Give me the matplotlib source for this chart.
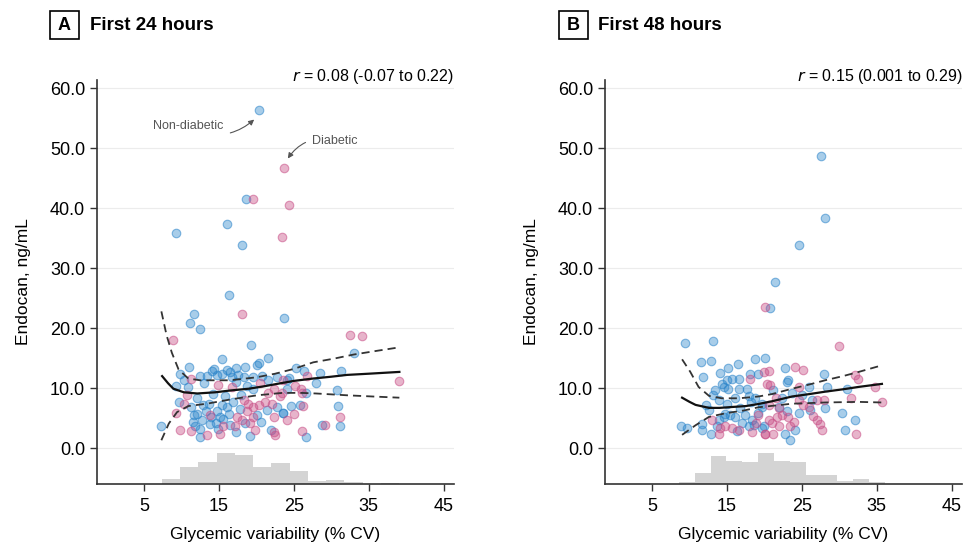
import numpy as np
import matplotlib.pyplot as plt
from matplotlib.patches import Rectangle

plt.rcParams['font.family'] = ['Liberation Sans', 'DejaVu Sans']

# Panel A - first 24 hours
a_nondiab_x = [20.3, 18.6, 9.2, 16.1, 18.1, 16.3, 11.6, 11.1, 12.4, 23.7, 19.3, 15.4, 21.5, 20.3, 20.1,
               11.0, 14.3, 14.1, 16.1, 17.3, 18.5, 9.8, 12.5, 13.4, 14.7, 15.4, 16.5, 16.7, 17.6, 18.3,
               19.6, 20.7, 21.6, 22.7, 24.1, 9.2, 10.3, 10.9, 17.3, 19.6, 9.7, 11.2, 12.9, 13.7, 15.4,
               16.1, 16.9, 22.7, 12.1, 14.7, 15.2, 15.6, 20.1, 21.4, 23.6, 7.3, 11.8, 12.5, 12.5, 13.8,
               14.6, 16.5, 17.3, 18.5, 19.2, 12.7, 13.2, 11.6,
               33.0, 25.3, 26.3, 28.5, 31.3, 24.4, 28.0, 30.8, 24.1, 26.6, 24.6, 25.8, 30.9, 23.5, 28.7,
               31.2, 26.6,
               13.0, 14.2, 15.8, 17.9, 18.8, 12.0, 13.9, 16.4, 17.8, 20.6, 21.9, 11.5, 14.9]
a_nondiab_y = [56.4, 41.6, 35.9, 37.3, 33.8, 25.5, 22.3, 20.9, 19.9, 21.7, 17.2, 14.9, 15.1, 14.2, 13.8,
               13.6, 13.2, 12.9, 13.0, 13.3, 13.6, 12.3, 12.0, 12.0, 12.2, 12.4, 12.7, 11.9, 12.2, 11.9,
               11.9, 12.0, 11.3, 11.9, 11.3, 10.3, 11.3, 10.2, 11.1, 9.9, 7.7, 6.9, 7.2, 7.4, 7.2,
               6.9, 7.6, 6.9, 5.6, 6.1, 5.2, 4.9, 5.5, 6.3, 5.9, 3.7, 3.7, 3.1, 1.9, 4.0,
               4.1, 3.8, 2.7, 4.1, 2.0, 4.7, 6.1, 5.5,
               15.8, 13.3, 12.9, 12.6, 12.9, 11.7, 10.8, 9.7, 9.9, 9.1, 7.0, 7.2, 7.0, 5.9, 3.9,
               3.7, 1.9,
               10.8, 9.0, 8.7, 8.9, 10.4, 8.3, 5.1, 5.6, 6.5, 4.3, 3.0, 4.4, 3.1]
a_diab_x = [23.75, 19.6, 24.3, 23.4, 18.1, 8.9, 11.2, 22.3, 23.4, 10.7, 10.3, 18.3, 19.6, 20.3, 21.2,
            22.1, 9.3, 13.8, 17.4, 18.1, 22.4, 11.2, 15.6, 19.8, 22.3,
            32.5, 34.1, 26.7, 23.5, 39.1, 25.2, 25.9, 26.1, 23.2, 25.0, 31.2, 29.2, 26.1,
            14.9, 18.9, 18.7, 19.2, 9.8, 13.4, 15.2, 22.5, 26.2, 24.1,
            16.8, 20.5, 19.5, 21.6, 17.1]
a_diab_y = [46.7, 41.5, 40.5, 35.2, 22.3, 18.1, 11.6, 9.9, 9.1, 8.8, 7.4, 8.0, 6.9, 7.2, 7.7,
            7.4, 5.9, 5.5, 5.2, 4.7, 5.2, 2.9, 3.6, 3.0, 2.6,
            18.9, 18.7, 12.1, 11.3, 11.2, 10.3, 9.8, 9.1, 8.6, 5.6, 5.2, 3.9, 2.9,
            10.5, 7.4, 6.1, 4.1, 3.0, 2.2, 2.4, 2.2, 7.0, 4.7,
            10.1, 10.9, 5.1, 9.2, 3.6]

a_fit_x = [7.4, 8.2, 8.9, 10.3, 12.1, 14.5, 16.5, 19, 21, 23.2, 25, 27.6, 30, 32.1, 35, 39.1]
a_fit_y = [12.0, 10.8, 9.9, 9.3, 9.1, 9.3, 9.6, 9.9, 10.3, 10.8, 11.2, 11.6, 11.9, 12.2, 12.4, 12.7]
a_upper_x = [7.3, 8.0, 8.7, 9.6, 10.9, 12.5, 16.5, 20, 22.5, 25, 27.6, 30.3, 33, 36, 39.1]
a_upper_y = [22.8, 18.8, 15.9, 13.1, 11.6, 11.3, 11.3, 11.8, 12.4, 13.2, 14.3, 14.9, 15.6, 16.2, 16.8]
a_lower_x = [7.3, 8.3, 9.4, 10.9, 13.4, 16.5, 20.1, 23.5, 26, 28, 32.1, 35.5, 39.1]
a_lower_y = [1.3, 4.1, 6.0, 7.0, 7.4, 8.1, 8.8, 9.2, 9.2, 9.1, 8.8, 8.6, 8.4]

a_hist_start = 7.35
a_hist_width = 2.44
a_hist_counts = [5, 17, 22, 30, 28, 17, 21, 13, 3, 4, 2, 0, 1]

# Panel B - first 48 hours
b_nondiab_x = [27.6, 28.1, 24.6, 21.4, 20.8, 9.4, 13.1, 11.5, 12.8, 16.5, 15.2, 18.8, 20.1, 11.8, 14.0,
               15.0, 15.7, 16.6, 18.1, 19.2, 14.3, 14.6, 13.4, 15.2, 16.6, 17.7, 13.1, 13.9, 16.1, 17.9,
               18.8, 15.0, 19.7, 12.6, 14.8, 14.6, 15.4, 13.9, 16.1, 17.4, 18.3, 17.0, 8.9, 9.7, 11.7,
               11.7, 12.8, 17.9, 18.6, 19.7,
               22.7, 23.1, 23.0, 28.0, 25.9, 28.3, 31.1, 23.7, 25.0, 28.1, 19.7, 21.9, 26.1, 30.3, 32.1,
               30.8, 23.4, 22.8, 24.6, 23.0, 19.2, 19.9, 24.1, 26.3,
               12.2, 16.8, 18.2, 21.2, 22.4, 13.6, 16.3]
b_nondiab_y = [48.8, 38.4, 33.9, 27.7, 23.4, 17.6, 17.8, 14.4, 14.5, 14.0, 13.4, 14.8, 15.1, 11.9, 12.6,
               11.4, 11.6, 11.6, 12.3, 12.3, 10.6, 10.2, 9.7, 9.9, 9.8, 9.9, 8.8, 8.0, 8.3, 8.6,
               8.3, 7.4, 6.9, 6.3, 5.7, 5.2, 5.5, 4.7, 5.2, 5.5, 4.7, 4.1, 3.7, 3.4, 4.0,
               3.0, 2.4, 3.6, 3.8, 3.3,
               13.4, 11.3, 11.1, 12.3, 10.2, 10.2, 9.8, 9.1, 8.8, 6.7, 7.4, 6.9, 6.3, 5.8, 4.7,
               3.0, 1.4, 2.4, 5.8, 6.1, 5.8, 3.6, 3.0, 8.0,
               7.2, 6.6, 7.6, 9.6, 8.3, 3.6, 2.9]
b_diab_x = [20.3, 13.0, 18.3, 29.9, 24.1, 25.1, 32.1, 32.5, 20.8, 24.6, 34.8, 31.6, 35.7, 27.0, 27.9,
            24.6, 20.6, 25.9, 27.0, 27.4, 27.7, 32.2, 20.6, 21.0, 21.7, 22.3, 23.9, 21.9, 21.2, 20.1,
            20.1, 18.1, 19.9, 14.1, 14.8, 15.7, 16.6, 13.9, 19.2, 20.1, 20.6, 25.2, 23.4,
            22.0, 23.2, 26.5, 18.9, 21.5]
b_diab_y = [10.6, 4.7, 2.7, 17.0, 13.6, 13.0, 12.2, 11.6, 10.5, 10.2, 10.1, 8.4, 7.6, 8.0, 8.0,
            8.0, 7.2, 6.9, 4.7, 4.0, 3.0, 2.4, 4.7, 4.1, 5.2, 5.5, 4.4, 3.6, 2.4, 2.3,
            23.6, 11.6, 12.7, 3.3, 3.6, 3.3, 3.0, 2.4, 5.5, 2.4, 12.9, 7.2, 3.6,
            6.7, 5.2, 5.4, 4.2, 8.4]

b_fit_x = [9.0, 10.0, 10.8, 12.6, 14, 15.7, 17.5, 19.2, 21, 23.7, 26, 28.1, 30.5, 32.6, 35.7]
b_fit_y = [8.4, 7.7, 7.2, 6.7, 6.7, 6.85, 7.0, 7.35, 7.8, 8.6, 9.0, 9.4, 9.8, 10.2, 10.7]
b_upper_x = [9.0, 10.1, 11.2, 12.6, 14.3, 16.6, 19.2, 21, 23.7, 26, 28.1, 30.5, 32.6, 35.7]
b_upper_y = [14.8, 12.7, 10.2, 8.7, 8.3, 8.3, 8.6, 9.0, 9.9, 10.6, 11.3, 12.0, 12.7, 13.8]
b_lower_x = [9.0, 10.8, 12.6, 14.8, 17.4, 19.2, 21.5, 23.7, 26, 28.1, 32.6, 35.7]
b_lower_y = [2.2, 3.8, 5.2, 5.8, 6.3, 6.8, 7.1, 7.4, 7.5, 7.6, 7.7, 7.6]

b_hist_start = 8.56
b_hist_width = 2.12
b_hist_counts = [2, 11, 27, 23, 22, 30, 23, 22, 9, 9, 3, 5, 2]

yticks = [0, 10, 20, 30, 40, 50, 60]
xticks = [5, 15, 25, 35, 45]

blue_face = (0.15, 0.51, 0.79, 0.40)
blue_edge = (0.15, 0.51, 0.79, 0.55)
pink_face = (0.78, 0.30, 0.52, 0.42)
pink_edge = (0.78, 0.30, 0.52, 0.55)


def draw_panel(ax, nd_x, nd_y, d_x, d_y, fx, fy, ux, uy, lx, ly, h0, hw, hc, rtext):
    for yt in yticks:
        ax.axhline(yt, color='#ececec', lw=0.8, zorder=0)
    hc = np.array(hc, dtype=float)
    lefts = h0 + hw * np.arange(len(hc))
    ax.bar(lefts, hc / hc.max() * 5.1, width=hw, bottom=-6, align='edge',
           color='#d4d4d4', edgecolor='none', zorder=1)
    ax.scatter(nd_x, nd_y, s=38, facecolor=blue_face, edgecolor=blue_edge, linewidths=0.8, zorder=2)
    ax.scatter(d_x, d_y, s=38, facecolor=pink_face, edgecolor=pink_edge, linewidths=0.8, zorder=3)
    ax.plot(fx, fy, color='#111111', lw=1.6, zorder=4)
    ax.plot(ux, uy, color='#333333', lw=1.3, ls=(0, (4.5, 2.8)), zorder=4)
    ax.plot(lx, ly, color='#333333', lw=1.3, ls=(0, (4.5, 2.8)), zorder=4)

    ax.set_xlim(-1.3, 46.4)
    ax.set_ylim(-6, 61.4)
    ax.set_xticks(xticks)
    ax.set_yticks(yticks)
    ax.set_yticklabels(['%.1f' % v for v in yticks])
    ax.tick_params(labelsize=13, length=5, width=1, color='#333333')
    ax.tick_params(axis='x', pad=5)
    for s in ['top', 'right']:
        ax.spines[s].set_visible(False)
    for s in ['left', 'bottom']:
        ax.spines[s].set_linewidth(1.2)
        ax.spines[s].set_color('#333333')
    ax.set_xlabel('Glycemic variability (% CV)', fontsize=12.5, labelpad=9)
    ax.set_ylabel('Endocan, ng/mL', fontsize=12.5, labelpad=14)
    ax.text(1.0, 1.009, rtext, transform=ax.transAxes, ha='right', va='center', fontsize=11.5)


fig = plt.figure(figsize=(9.63, 5.47), dpi=100)
axA = fig.add_axes([97 / 963, 63 / 547, 357 / 963, 404 / 547])
axB = fig.add_axes([605 / 963, 63 / 547, 357 / 963, 404 / 547])

draw_panel(axA, a_nondiab_x, a_nondiab_y, a_diab_x, a_diab_y, a_fit_x, a_fit_y,
           a_upper_x, a_upper_y, a_lower_x, a_lower_y,
           a_hist_start, a_hist_width, a_hist_counts, '$r$ = 0.08 (-0.07 to 0.22)')
draw_panel(axB, b_nondiab_x, b_nondiab_y, b_diab_x, b_diab_y, b_fit_x, b_fit_y,
           b_upper_x, b_upper_y, b_lower_x, b_lower_y,
           b_hist_start, b_hist_width, b_hist_counts, '$r$ = 0.15 (0.001 to 0.29)')

# group labels with curved arrows
axA.annotate('Non-diabetic', xy=(19.7, 54.8), xytext=(15.6, 53.7), fontsize=9, color='#555555',
             ha='right', va='center',
             arrowprops=dict(arrowstyle='-|>', color='#555555', lw=0.8, mutation_scale=8,
                             shrinkA=3, shrinkB=0, connectionstyle='arc3,rad=0.35'))
axA.annotate('Diabetic', xy=(24.2, 48.3), xytext=(27.45, 51.3), fontsize=9, color='#555555',
             ha='left', va='center',
             arrowprops=dict(arrowstyle='-|>', color='#555555', lw=0.8, mutation_scale=8,
                             shrinkA=3, shrinkB=0, connectionstyle='arc3,rad=0.35'))

# panel headers
for bx, tx, letter, title in [(50, 90, 'A', 'First 24 hours'), (559, 598, 'B', 'First 48 hours')]:
    fig.add_artist(Rectangle((bx / 963, 1 - 39 / 547), 29 / 963, 28 / 547,
                             transform=fig.transFigure, fill=False, lw=1.2, ec='black'))
    fig.text((bx + 14.5) / 963, 1 - 25 / 547, letter, ha='center', va='center',
             fontsize=13, fontweight='bold')
    fig.text(tx / 963, 1 - 25 / 547, title, ha='left', va='center',
             fontsize=13.5, fontweight='bold')

plt.savefig('out.png', dpi=100)
